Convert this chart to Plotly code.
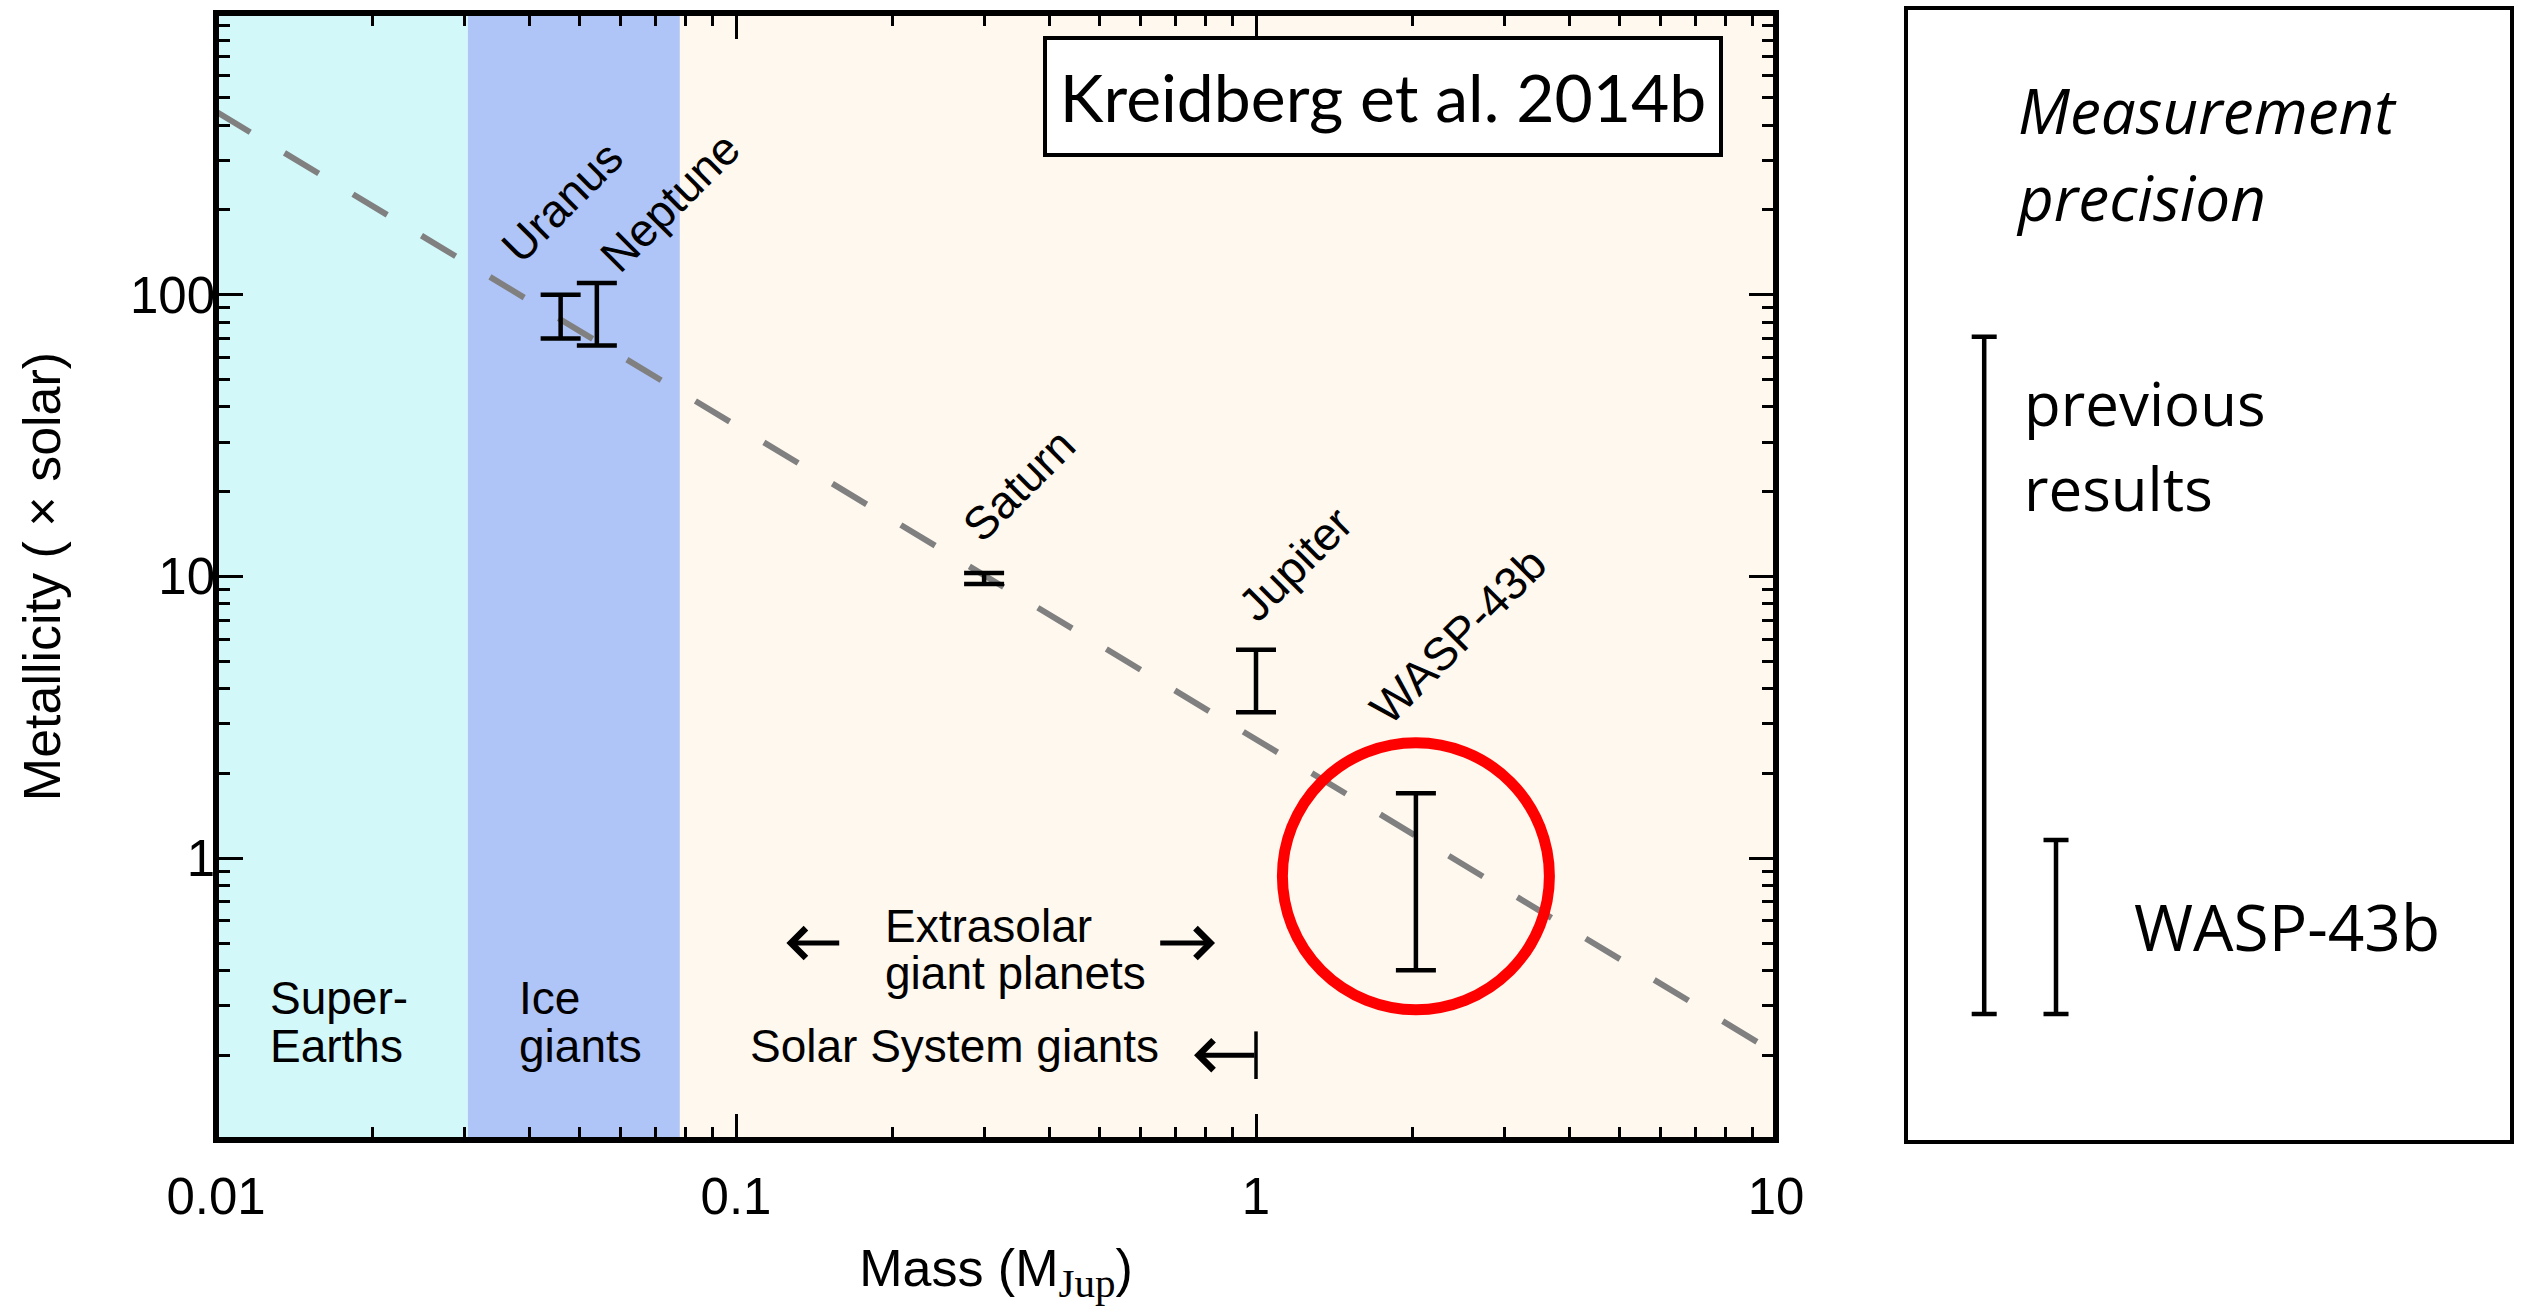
import math
import plotly.graph_objects as go

# ---------------- data ----------------
planet_names = ["Uranus", "Neptune", "Saturn", "Jupiter", "WASP-43b"]
planet_mass = [0.046, 0.054, 0.30, 1.0, 2.03]          # M_Jup
planet_metal_lo = [70.0, 66.0, 9.4, 3.3, 0.40]          # x solar
planet_metal_hi = [100.0, 110.0, 10.3, 5.5, 1.70]       # x solar

trend_mass = [0.01, 10.0]
trend_metal = [447.0, 0.203]

band_edges = [0.01, 0.0305, 0.078, 10.0]
band_colors = ["#d3f8fa", "#afc5f7", "#fef8ee"]

precision_names = ["previous results", "WASP-43b"]
precision_lo = [0.28, 0.28]
precision_hi = [71.0, 1.16]

extrasolar_y = 0.5
extrasolar_left = (0.159, 0.125)    # tail, tip
extrasolar_right = (0.65, 0.834)    # tail, tip
solar_limit_mass = 1.0
solar_limit_tip = 0.76
solar_limit_y = 0.2

x_tickvals = [0.01, 0.1, 1, 10]
y_tickvals = [1, 10, 100]

# ---------------- geometry ----------------
W, H = 2523, 1306
ML, MR, MT, MB = 216, 8, 13, 166
PLOT_W = 1560
PW = W - ML - MR
PH = H - MT - MB
X_RANGE = [-2, 1]
Y_RANGE = [-1, 3]
px_per_dec_x = PLOT_W / (X_RANGE[1] - X_RANGE[0])
px_per_dec_y = PH / (Y_RANGE[1] - Y_RANGE[0])

SANS = "Liberation Sans, Arial, sans-serif"
AVENIR = "Open Sans, Lato, sans-serif"

fig = go.Figure()

# dashed trend line
fig.add_trace(go.Scatter(
    x=trend_mass, y=trend_metal, mode="lines",
    line=dict(color="#808080", width=6, dash="40px,40px"),
    hoverinfo="skip", showlegend=False))

# planet metallicity constraints
mid = [math.sqrt(a * b) for a, b in zip(planet_metal_lo, planet_metal_hi)]
fig.add_trace(go.Scatter(
    x=planet_mass, y=mid, mode="markers",
    marker=dict(size=1, color="rgba(0,0,0,0)"),
    error_y=dict(type="data", symmetric=False,
                 array=[h - m for h, m in zip(planet_metal_hi, mid)],
                 arrayminus=[m - l for m, l in zip(mid, planet_metal_lo)],
                 color="black", thickness=4.5, width=20),
    showlegend=False, hoverinfo="skip"))

# Solar System giants limit marker
fig.add_trace(go.Scatter(
    x=[solar_limit_mass], y=[solar_limit_y], mode="markers",
    marker=dict(symbol="line-ns", size=34, line=dict(width=3.5, color="black")),
    showlegend=False, hoverinfo="skip"))

# measurement precision bars (right panel)
pmid = [math.sqrt(a * b) for a, b in zip(precision_lo, precision_hi)]
fig.add_trace(go.Scatter(
    x=[i + 1 for i in range(len(precision_names))], y=pmid,
    xaxis="x2", yaxis="y2", mode="markers",
    marker=dict(size=1, color="rgba(0,0,0,0)"),
    error_y=dict(type="data", symmetric=False,
                 array=[h - m for h, m in zip(precision_hi, pmid)],
                 arrayminus=[m - l for m, l in zip(pmid, precision_lo)],
                 color="black", thickness=4.5, width=12.5),
    showlegend=False, hoverinfo="skip"))

shapes = []
for i, col in enumerate(band_colors):
    shapes.append(dict(type="rect", xref="x", yref="y domain",
                       x0=band_edges[i], x1=band_edges[i + 1], y0=0, y1=1,
                       fillcolor=col, line=dict(width=0), layer="below"))

# highlight ring around WASP-43b
wi = planet_names.index("WASP-43b")
cx = math.log10(planet_mass[wi])
cy = math.log10(math.sqrt(planet_metal_lo[wi] * planet_metal_hi[wi])) + 0.02
ring_px = 133.5
shapes.append(dict(type="circle", xref="x", yref="y",
                   x0=10 ** (cx - ring_px / px_per_dec_x), x1=10 ** (cx + ring_px / px_per_dec_x),
                   y0=10 ** (cy - ring_px / px_per_dec_y), y1=10 ** (cy + ring_px / px_per_dec_y),
                   line=dict(color="#ff0000", width=11), layer="above"))

# main frame
shapes.append(dict(type="rect", xref="x domain", yref="y domain", x0=0, x1=1, y0=0, y1=1,
                   line=dict(color="black", width=6), layer="above"))
# right panel frame
shapes.append(dict(type="rect", xref="paper", yref="paper",
                   x0=(1906 - ML) / PW, x1=(2512 - ML) / PW,
                   y0=(H - MB - 1142) / PH, y1=(H - MB - 8) / PH,
                   line=dict(color="black", width=4), layer="above"))

L10 = math.log10
ann = []


def txt(x, y, s, size=46, anchor="left", angle=0, font=SANS, xref="x", yref="y", **kw):
    d = dict(x=x, y=y, text=s, xref=xref, yref=yref, showarrow=False,
             xanchor=anchor, yanchor="middle", textangle=angle,
             font=dict(family=font, size=size, color="black"))
    d.update(kw)
    ann.append(d)


# region labels
txt(-1.900, -0.496, "Super-")
txt(-1.900, -0.668, "Earths")
txt(-1.421, -0.496, "Ice")
txt(-1.421, -0.668, "giants")
txt(-0.717, -0.242, "Extrasolar")
txt(-0.717, -0.409, "giant planets")
txt(-0.977, -0.668, "Solar System giants")

# planet labels
label_pos = {"Uranus": (-1.335, 2.329), "Neptune": (-1.127, 2.329),
             "Saturn": (-0.456, 1.325), "Jupiter": (0.075, 1.045),
             "WASP-43b": (0.388, 0.790)}
for name in planet_names:
    lx, ly = label_pos[name]
    txt(lx, ly, name, anchor="center", angle=-45)


def arrow(tail, tip, y):
    ann.append(dict(x=L10(tip), y=L10(y), ax=L10(tail), ay=L10(y),
                    xref="x", yref="y", axref="x", ayref="y", text="",
                    showarrow=True, arrowhead=4, arrowsize=1.15, arrowwidth=5,
                    arrowcolor="black", standoff=0, startstandoff=0))


arrow(extrasolar_left[0], extrasolar_left[1], extrasolar_y)
arrow(extrasolar_right[0], extrasolar_right[1], extrasolar_y)
arrow(solar_limit_mass, solar_limit_tip, solar_limit_y)

# citation box
ann.append(dict(x=(1383 - ML) / PLOT_W, y=(H - MB - 96.5) / PH, xref="x domain", yref="y domain",
                text="Kreidberg et al. 2014b", showarrow=False, xanchor="center", yanchor="middle",
                font=dict(family="Lato, sans-serif", size=66, color="black"),
                bgcolor="white", bordercolor="black", borderwidth=4, borderpad=0,
                width=672, height=113))


# right panel text
def ptxt(px, py, s, size=60, italic=False):
    ann.append(dict(x=(px - ML) / PW, y=(H - MB - py) / PH, xref="paper", yref="paper",
                    text=s, showarrow=False, xanchor="left", yanchor="middle",
                    font=dict(family=AVENIR, size=size, color="black",
                              style="italic" if italic else "normal")))


ptxt(2016, 110, "Measurement", size=62, italic=True)
ptxt(2014, 197, "precision", size=62, italic=True)
ptxt(2022, 403, "previous")
ptxt(2022, 488, "results")
ptxt(2132, 926, "WASP-43b", size=64)

minor_vals_x = [m * 10 ** e for e in range(-2, 1) for m in range(2, 10)]
minor_vals_y = [m * 10 ** e for e in range(-1, 3) for m in range(2, 10)]

fig.update_layout(
    width=W, height=H,
    margin=dict(l=ML, r=MR, t=MT, b=MB, autoexpand=False),
    paper_bgcolor="white", plot_bgcolor="white",
    showlegend=False,
    shapes=shapes, annotations=ann,
    xaxis=dict(type="log", range=X_RANGE, domain=[0, PLOT_W / PW], automargin=False,
               tickmode="array", tickvals=x_tickvals,
               ticks="inside", ticklen=26, tickwidth=2.5, tickcolor="black",
               mirror="allticks", showline=False, showgrid=False, zeroline=False,
               ticklabelstandoff=22,
               tickfont=dict(family=SANS, size=51, color="black"),
               minor=dict(tickmode="array", tickvals=minor_vals_x, ticks="inside",
                          ticklen=13, tickwidth=2.5, tickcolor="black", showgrid=False),
               title=dict(text="Mass (M<sub><span style=\"font-family:'Liberation Serif';font-size:41px\">Jup</span></sub>)",
                          font=dict(family=SANS, size=52, color="black"), standoff=46)),
    yaxis=dict(type="log", range=Y_RANGE, domain=[0, 1], automargin=False,
               tickmode="array", tickvals=y_tickvals,
               ticks="inside", ticklen=27, tickwidth=2.5, tickcolor="black",
               mirror="allticks", showline=False, showgrid=False, zeroline=False,
               tickfont=dict(family=SANS, size=51, color="black"),
               minor=dict(tickmode="array", tickvals=minor_vals_y, ticks="inside",
                          ticklen=14, tickwidth=2.5, tickcolor="black", showgrid=False),
               title=dict(text="Metallicity ( \u00d7 solar)",
                          font=dict(family=SANS, size=52, color="black"), standoff=52)),
    xaxis2=dict(domain=[(1906 - ML) / PW, (2512 - ML) / PW], range=[-0.089, 8.35],
                visible=False, anchor="y2"),
    yaxis2=dict(type="log", range=Y_RANGE, domain=[0, 1], visible=False, anchor="x2"),
)

fig.write_html("out.html")
